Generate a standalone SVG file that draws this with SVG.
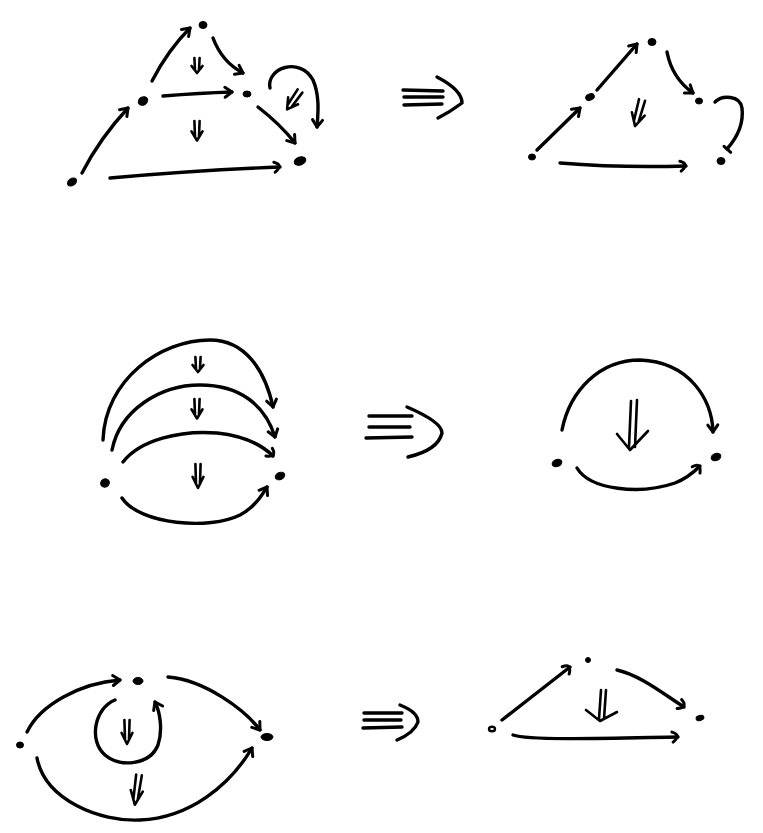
<svg xmlns="http://www.w3.org/2000/svg" width="763" height="833" viewBox="0 0 763 833">
<style>
.s{fill:none;stroke:#000;stroke-width:3.4;stroke-linecap:round;stroke-linejoin:round}
.t{fill:none;stroke:#000;stroke-width:2.6;stroke-linecap:round;stroke-linejoin:round;vector-effect:non-scaling-stroke}
.d{fill:#000;stroke:#000;stroke-width:1}
.o{fill:#fff;stroke:#000;stroke-width:2.4}
.a{marker-end:url(#ah)}
.h{marker-end:url(#hk)}
</style>
<defs>
<marker id="ah" viewBox="-10 -7 14 14" refX="0" refY="0" markerWidth="14" markerHeight="14" orient="auto" markerUnits="userSpaceOnUse" overflow="visible"><path d="M-7,-5 L0,0 L-7,5" fill="none" stroke="#000" stroke-width="3" stroke-linecap="round" stroke-linejoin="round"/></marker>
<marker id="hk" viewBox="-10 -7 14 14" refX="0" refY="0" markerWidth="14" markerHeight="14" orient="auto" markerUnits="userSpaceOnUse" overflow="visible"><path d="M-6,-5 Q4,-2 -5,5" fill="none" stroke="#000" stroke-width="3" stroke-linecap="round"/></marker>
<marker id="br" viewBox="-7 -7 14 14" refX="0" refY="0" markerWidth="14" markerHeight="14" orient="auto" markerUnits="userSpaceOnUse" overflow="visible"><path d="M0,-5 L0,4" fill="none" stroke="#000" stroke-width="3" stroke-linecap="round"/></marker>
<path id="dbl" d="M-2.6,0 L-2,12 M2.6,0 L2,12 M-5.5,8 L0,15 L5.5,8" class="t"/>
</defs>

<!-- Panel 1 -->
<g id="p1-left">
  <g id="n1a"><ellipse class="d" cx="203" cy="25" rx="4" ry="3.5"/></g>
  <g id="n1b"><ellipse class="d" cx="143" cy="101" rx="5" ry="4" transform="rotate(-30 143 101)"/></g>
  <g id="n1c"><ellipse class="d" cx="247" cy="94" rx="4" ry="3"/></g>
  <g id="n1d"><ellipse class="d" cx="72" cy="182" rx="5" ry="3.5" transform="rotate(-35 72 182)"/></g>
  <g id="n1e"><ellipse class="d" cx="300" cy="161" rx="6" ry="4" transform="rotate(-20 300 161)"/></g>
  <g id="e1">
    <path class="s a" d="M82,173 Q100,138 128,108"/>
    <path class="s a" d="M152,81 Q168,50 190,28"/>
    <path class="s a" d="M213,38 Q222,62 243,73"/>
    <path class="s a" d="M163,96 Q200,93 232,92"/>
    <path class="s a" d="M258,107 Q280,124 295,143"/>
    <path class="s h" d="M110,178 Q200,170 280,167"/>
    <path class="s a" d="M270,88 C266,68 300,56 313,80 C320,96 318,114 317,127"/>
  </g>
  <use href="#dbl" transform="translate(197,58)"/>
  <use href="#dbl" transform="translate(197,121) scale(1,1.3)"/>
  <use href="#dbl" transform="translate(300,91) rotate(35) scale(1.1,1.5)"/>
</g>
<g id="imp1">
  <path class="s" d="M403,90 L443,91 M404,97 L443,97 M404,105 L442,104 M437,77 Q462,90 462,103 Q450,112 438,118"/>
</g>
<g id="p1-right">
  <g id="n2a"><ellipse class="d" cx="532" cy="157" rx="3.5" ry="3"/></g>
  <g id="n2b"><ellipse class="d" cx="590" cy="97" rx="4.5" ry="3" transform="rotate(-25 590 97)"/></g>
  <g id="n2c"><ellipse class="d" cx="652" cy="42" rx="4" ry="3.5"/></g>
  <g id="n2d"><ellipse class="d" cx="699" cy="101" rx="3.5" ry="3"/></g>
  <g id="n2e"><ellipse class="d" cx="721" cy="161" rx="4" ry="3.5"/></g>
  <g id="e2">
    <path class="s a" d="M537,150 L580,108"/>
    <path class="s a" d="M597,90 L637,44"/>
    <path class="s a" d="M667,52 Q672,78 693,93"/>
    <path class="s" d="M715,102 C722,95 740,95 742,108 C744,125 735,140 727,149" marker-end="url(#br)"/>
    <path class="s h" d="M560,163 Q620,168 686,166"/>
  </g>
  <use href="#dbl" transform="translate(642,100) rotate(15) scale(1.2,1.8)"/>
</g>

<!-- Panel 2 -->
<g id="p2-left">
  <g id="n3a"><ellipse class="d" cx="105" cy="483" rx="4.5" ry="4" transform="rotate(-30 105 483)"/></g>
  <g id="n3b"><ellipse class="d" cx="280" cy="476" rx="5" ry="3.5" transform="rotate(-25 280 476)"/></g>
  <g id="e3">
    <path class="s a" d="M103,440 C105,380 160,340 210,340 C245,340 265,370 273,407"/>
    <path class="s a" d="M112,450 C120,410 160,385 200,385 C240,385 265,405 275,437"/>
    <path class="s h" d="M123,462 C140,440 180,430 217,433 C245,436 262,445 273,456"/>
    <path class="s a" d="M122,498 C140,525 210,530 240,515 C255,507 262,495 267,487"/>
  </g>
  <use href="#dbl" transform="translate(198,357)"/>
  <use href="#dbl" transform="translate(197,399) scale(1,1.3)"/>
  <use href="#dbl" transform="translate(198,464) scale(1,1.6)"/>
</g>
<g id="imp2">
  <path class="s" d="M369,416 L412,416 M369,427 L410,427 M366,438 L412,437 M407,407 Q442,422 442,433 Q438,450 408,457"/>
</g>
<g id="p2-right">
  <g id="n4a"><ellipse class="d" cx="557" cy="463" rx="5" ry="3.5" transform="rotate(-20 557 463)"/></g>
  <g id="n4b"><ellipse class="d" cx="716" cy="457" rx="5" ry="3.5" transform="rotate(-20 716 457)"/></g>
  <g id="e4">
    <path class="s a" d="M562,430 C570,390 600,360 640,360 C690,362 712,400 713,432"/>
    <path class="s h" d="M577,468 C590,490 640,495 675,483 C688,478 696,470 700,466"/>
  </g>
  <path class="t" d="M631,401 L629,447 M637,400 L635,447 M617,434 L630,450 L648,431"/>
</g>

<!-- Panel 3 -->
<g id="p3-left">
  <g id="n5a"><ellipse class="d" cx="20" cy="745" rx="3.5" ry="3"/></g>
  <g id="n5b"><ellipse class="d" cx="138" cy="681" rx="5" ry="3.5"/></g>
  <g id="n5c"><ellipse class="d" cx="267" cy="737" rx="6" ry="3.5"/></g>
  <g id="e5">
    <path class="s a" d="M27,732 C40,705 80,683 120,680"/>
    <path class="s a" d="M168,677 C205,680 245,710 260,730"/>
    <path class="s a" d="M37,758 C45,800 100,822 140,820 C190,818 230,785 252,748"/>
    <path class="s a" d="M115,700 C95,708 88,740 105,755 C120,768 150,765 158,745 C163,730 160,712 155,702"/>
  </g>
  <use href="#dbl" transform="translate(127,720) scale(1,1.6)"/>
  <use href="#dbl" transform="translate(139,775) rotate(8) scale(1.1,2)"/>
</g>
<g id="imp3">
  <path class="s" d="M364,713 L402,713 M364,720 L401,720 M363,728 L402,727 M400,705 Q418,712 418,722 Q414,733 397,740"/>
</g>
<g id="p3-right">
  <g id="n6a"><ellipse class="o" cx="492" cy="729" rx="3" ry="2.3"/></g>
  <g id="n6b"><ellipse class="d" cx="588" cy="660" rx="2.5" ry="2.5"/></g>
  <g id="n6c"><ellipse class="d" cx="700" cy="718" rx="4" ry="2.5" transform="rotate(-15 700 718)"/></g>
  <g id="e6">
    <path class="s h" d="M502,720 L570,667"/>
    <path class="s h" d="M617,670 C640,675 665,695 684,707"/>
    <path class="s h" d="M513,735 C530,741 620,738 678,737"/>
  </g>
  <path class="t" d="M601,690 L599,719 M606,690 L604,719 M586,710 L600,721 L617,712"/>
</g>
</svg>
